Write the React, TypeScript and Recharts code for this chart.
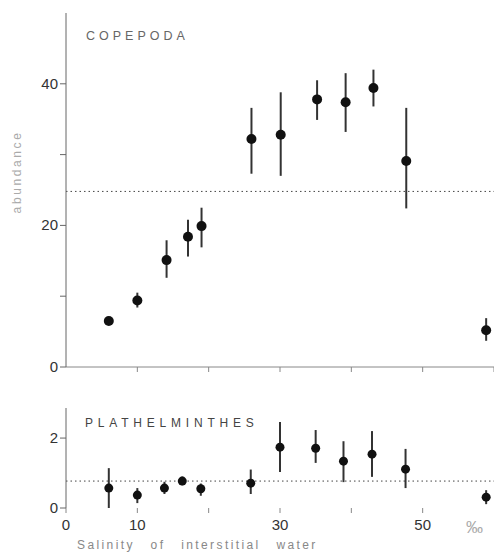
import React from 'react';
import { ScatterChart, Scatter, XAxis, YAxis, ErrorBar, ReferenceLine } from 'recharts';

const copepodaX = [6.0, 10.0, 14.1, 17.1, 19.0, 26.0, 30.1, 35.2, 39.2, 43.1, 47.7, 58.9];
const copepodaY = [6.5, 9.4, 15.1, 18.4, 19.9, 32.2, 32.8, 37.8, 37.4, 39.4, 29.1, 5.2];
const copepodaLow = [0.5, 1.0, 2.5, 2.8, 3.0, 4.9, 5.8, 2.9, 4.2, 2.6, 6.7, 1.5];
const copepodaHigh = [0.5, 1.1, 2.8, 2.4, 2.6, 4.4, 6.0, 2.7, 4.1, 2.6, 7.5, 1.7];
const copepodaMean = 24.8;

const plathX = [6.0, 10.0, 13.8, 16.3, 18.9, 25.9, 30.0, 35.0, 38.9, 42.9, 47.6, 58.9];
const plathY = [0.57, 0.37, 0.57, 0.77, 0.55, 0.71, 1.74, 1.71, 1.34, 1.54, 1.11, 0.31];
const plathLow = [0.57, 0.23, 0.17, 0.12, 0.2, 0.31, 0.71, 0.42, 0.6, 0.65, 0.54, 0.2];
const plathHigh = [0.57, 0.2, 0.18, 0.13, 0.15, 0.39, 0.72, 0.52, 0.57, 0.66, 0.58, 0.2];
const plathMean = 0.77;

const topYTicks = [0, 10, 20, 30, 40];
const topYLabels = [0, 20, 40];
const topXTicks = [10, 20, 30, 40, 50, 60];
const bottomYTicks = [0, 2];
const bottomXTicks = [0, 10, 20, 30, 40, 50];
const bottomXLabels = [0, 10, 30, 50];

const copepoda = copepodaX.map((x, i) => ({ x, y: copepodaY[i], err: [copepodaLow[i], copepodaHigh[i]] }));
const plath = plathX.map((x, i) => ({ x, y: plathY[i], err: [plathLow[i], plathHigh[i]] }));

const FONT = '"Liberation Sans", Arial, sans-serif';

const yTick = (labels: number[]) => (props: any) => {
  const { x, y, payload } = props;
  if (!labels.includes(payload.value)) return <g />;
  return (
    <text x={x} y={y} dy={5} textAnchor="end" fontSize={15} fill="#333" fontFamily={FONT}>
      {payload.value}
    </text>
  );
};

const xTick = (labels: number[]) => (props: any) => {
  const { x, y, payload } = props;
  if (!labels.includes(payload.value)) return <g />;
  return (
    <text x={x} y={y} dy={15} textAnchor="middle" fontSize={15} fill="#333" fontFamily={FONT}>
      {payload.value}
    </text>
  );
};

const emptyTick = () => <g />;

export default function App() {
  return (
    <div style={{ position: 'absolute', left: 0, top: 0, width: 494, height: 553, background: '#fff' }}>
      <div style={{ position: 'absolute', left: 0, top: 0 }}>
        <ScatterChart width={494} height={380} margin={{ top: 13, right: 0, bottom: 0, left: 0 }}>
          <XAxis
            type="number"
            dataKey="x"
            domain={[0, 60]}
            ticks={topXTicks}
            tick={emptyTick}
            height={13}
            tickSize={5}
            stroke="#888"
            allowDataOverflow
          />
          <YAxis
            type="number"
            dataKey="y"
            domain={[0, 50]}
            ticks={topYTicks}
            tick={yTick(topYLabels)}
            width={66}
            tickSize={6}
            stroke="#666"
            allowDataOverflow
          />
          <ReferenceLine y={copepodaMean} stroke="#444" strokeDasharray="1.5 3" segment={[{ x: 1, y: copepodaMean }, { x: 60, y: copepodaMean }]} />
          <Scatter data={copepoda} fill="#111" isAnimationActive={false} shape={(p: any) => <circle cx={p.cx} cy={p.cy} r={5} fill="#111" />}>
            <ErrorBar dataKey="err" direction="y" width={0} stroke="#333" strokeWidth={2} />
          </Scatter>
        </ScatterChart>
      </div>
      <div style={{ position: 'absolute', left: 0, top: 380 }}>
        <ScatterChart width={494} height={173} margin={{ top: 28, right: 0, bottom: 0, left: 0 }}>
          <XAxis
            type="number"
            dataKey="x"
            domain={[0, 60]}
            ticks={bottomXTicks}
            tick={xTick(bottomXLabels)}
            axisLine={false}
            height={45}
            tickSize={5}
            stroke="#888"
            allowDataOverflow
          />
          <YAxis
            type="number"
            dataKey="y"
            domain={[0, 2.86]}
            ticks={bottomYTicks}
            tick={yTick(bottomYTicks)}
            width={66}
            tickSize={6}
            stroke="#666"
            allowDataOverflow
          />
          <ReferenceLine segment={[{ x: -0.3, y: 0 }, { x: 57.6, y: 0 }]} stroke="#888" strokeWidth={1.2} />
          <ReferenceLine y={plathMean} stroke="#444" strokeDasharray="1.5 3" segment={[{ x: 1, y: plathMean }, { x: 60, y: plathMean }]} />
          <Scatter data={plath} fill="#111" isAnimationActive={false} shape={(p: any) => <circle cx={p.cx} cy={p.cy} r={4.5} fill="#111" />}>
            <ErrorBar dataKey="err" direction="y" width={0} stroke="#333" strokeWidth={2} />
          </Scatter>
        </ScatterChart>
      </div>
      <svg width={494} height={553} style={{ position: 'absolute', left: 0, top: 0, pointerEvents: 'none' }}>
        <text x={86} y={40} fontSize={12.5} letterSpacing={4} fill="#666" fontFamily={FONT}>COPEPODA</text>
        <text x={85} y={427} fontSize={12} letterSpacing={4.8} fill="#444" fontFamily={FONT}>PLATHELMINTHES</text>
        <text
          x={21}
          y={172}
          fontSize={12}
          letterSpacing={2.6}
          fill="#aaa"
          fontFamily={FONT}
          textAnchor="middle"
          transform="rotate(-90 21 172)"
        >
          abundance
        </text>
        <text x={77} y={549} fontSize={12} letterSpacing={2.4} fill="#888" fontFamily={FONT} wordSpacing={10}>
          Salinity of interstitial water
        </text>
        <text x={466} y={533} fontSize={17} fill="#aaa" fontFamily={FONT}>‰</text>
      </svg>
    </div>
  );
}
